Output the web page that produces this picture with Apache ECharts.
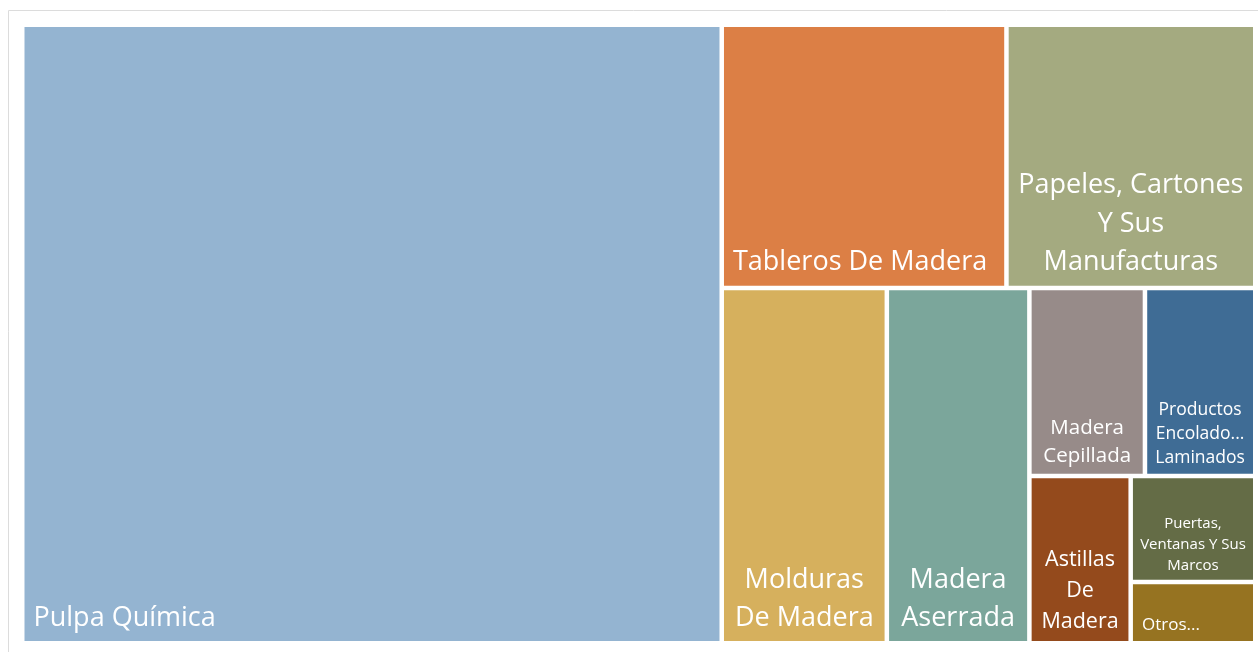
<!DOCTYPE html>
<html>
<head>
<meta charset="utf-8">
<script src="https://cdn.jsdelivr.net/npm/echarts@6/dist/echarts.min.js"></script>
<style>
  html, body { margin: 0; padding: 0; background: #fff; }
  #chart { width: 1258px; height: 652px; }
</style>
</head>
<body>
<div id="chart"></div>
<script>
const categories = [
  "Pulpa Química",
  "Tableros De Madera",
  "Papeles, Cartones Y Sus Manufacturas",
  "Molduras De Madera",
  "Madera Aserrada",
  "Madera Cepillada",
  "Productos Encolados Laminados",
  "Astillas De Madera",
  "Puertas, Ventanas Y Sus Marcos",
  "Otros"
];
const values = [56.73, 9.83, 8.59, 7.69, 6.64, 2.85, 2.72, 2.22, 1.73, 1.0];
// text as it is shown inside each tile
const tileLabels = [
  "Pulpa Química",
  "Tableros De Madera",
  "Papeles, Cartones\nY Sus\nManufacturas",
  "Molduras\nDe Madera",
  "Madera\nAserrada",
  "Madera\nCepillada",
  "Productos\nEncolado...\nLaminados",
  "Astillas\nDe\nMadera",
  "Puertas,\nVentanas Y Sus\nMarcos",
  "Otros..."
];

const palette = [
  "#94b4d1", "#dc7f45", "#a4aa80", "#d6b05d", "#7ba69b",
  "#978b89", "#3f6c95", "#944a1c", "#646c46", "#967321"
];
// [fontSize, lineHeight, position]
const labelLook = [
  [27, 38, "insideBottomLeft"],
  [27, 38, "insideBottomLeft"],
  [27, 38.5, "insideBottom"],
  [27, 38, "insideBottom"],
  [27, 38, "insideBottom"],
  [20.5, 28, "insideBottom"],
  [17.5, 24, "insideBottom"],
  [21.5, 31, "insideBottom"],
  [15, 21, "insideBottom"],
  [17, 23, "insideBottomLeft"]
];

const chart = echarts.init(document.getElementById("chart"));

const data = categories.map((name, i) => {
  const [size, lh, pos] = labelLook[i];
  const left = pos === "insideBottomLeft";
  return {
    name: name,
    value: values[i],
    itemStyle: { color: palette[i] },
    label: {
      position: pos,
      fontSize: size,
      lineHeight: lh,
      align: left ? "left" : "center",
      offset: left ? [5, 0] : [0, 0]
    }
  };
});

chart.setOption({
  animation: false,
  graphic: [{
    type: "rect",
    shape: { x: 8.5, y: 10.5, width: 1300, height: 700 },
    style: { fill: "none", stroke: "#dcdcdc", lineWidth: 1 },
    silent: true
  }],
  series: [{
    type: "treemap",
    left: 24.5,
    top: 27,
    width: 1228.5,
    height: 614,
    roam: false,
    nodeClick: false,
    silent: true,
    squareRatio: 0.865,
    breadcrumb: { show: false },
    itemStyle: { borderWidth: 0, gapWidth: 4.5, borderColor: "#fff" },
    label: {
      show: true,
      color: "#ffffff",
      fontFamily: "'Segoe UI', 'Open Sans', sans-serif",
      distance: 4,
      padding: 0,
      overflow: "none",
      formatter: (p) => tileLabels[categories.indexOf(p.name)]
    },
    data: data
  }]
});
</script>
</body>
</html>
